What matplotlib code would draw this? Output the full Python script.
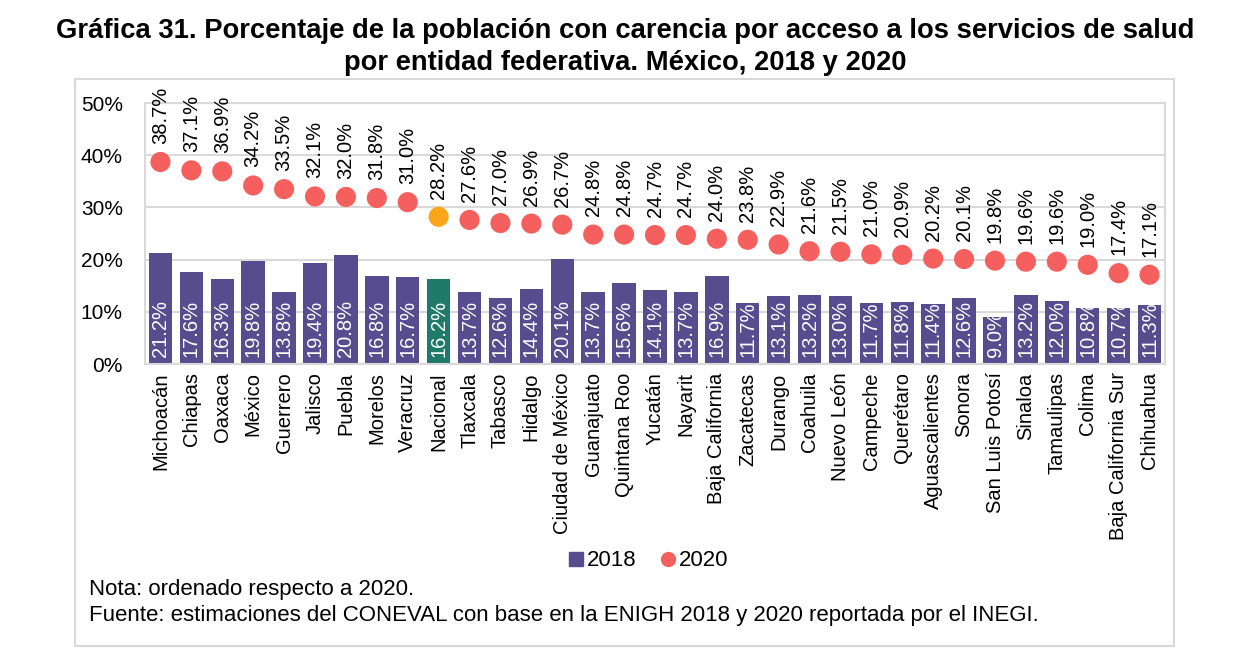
import matplotlib
matplotlib.use("Agg")
import matplotlib.pyplot as plt
from matplotlib.patches import Rectangle
from matplotlib.lines import Line2D
import numpy as np

plt.rcParams['font.family'] = ['Liberation Sans', 'DejaVu Sans']

states = ["Michoacán", "Chiapas", "Oaxaca", "México", "Guerrero", "Jalisco", "Puebla",
          "Morelos", "Veracruz", "Nacional", "Tlaxcala", "Tabasco", "Hidalgo",
          "Ciudad de México", "Guanajuato", "Quintana Roo", "Yucatán", "Nayarit",
          "Baja California", "Zacatecas", "Durango", "Coahuila", "Nuevo León",
          "Campeche", "Querétaro", "Aguascalientes", "Sonora", "San Luis Potosí",
          "Sinaloa", "Tamaulipas", "Colima", "Baja California Sur", "Chihuahua"]
v2018 = [21.2, 17.6, 16.3, 19.8, 13.8, 19.4, 20.8, 16.8, 16.7, 16.2, 13.7, 12.6, 14.4,
         20.1, 13.7, 15.6, 14.1, 13.7, 16.9, 11.7, 13.1, 13.2, 13.0, 11.7, 11.8, 11.4,
         12.6, 9.0, 13.2, 12.0, 10.8, 10.7, 11.3]
v2020 = [38.7, 37.1, 36.9, 34.2, 33.5, 32.1, 32.0, 31.8, 31.0, 28.2, 27.6, 27.0, 26.9,
         26.7, 24.8, 24.8, 24.7, 24.7, 24.0, 23.8, 22.9, 21.6, 21.5, 21.0, 20.9, 20.2,
         20.1, 19.8, 19.6, 19.6, 19.0, 17.4, 17.1]
yticks = [0, 10, 20, 30, 40, 50]

bar_color = "#564C8E"
nat_bar = "#1F7A6A"
dot_color = "#F5605E"
nat_dot = "#F9A61A"
grid_c = "#D9D9D9"

fig = plt.figure(figsize=(12.39, 6.63), dpi=100)
ax = fig.add_axes([145/1239, 1-364/663, (1165-145)/1239, (364-103)/663])

x = np.arange(len(states))
bcol = [nat_bar if s == "Nacional" else bar_color for s in states]
dcol = [nat_dot if s == "Nacional" else dot_color for s in states]
ax.bar(x, v2018, width=0.76, color=bcol, zorder=2)
ax.scatter(x, v2020, s=210, color=dcol, zorder=3, linewidths=0)

for xi, b, d in zip(x, v2018, v2020):
    ax.annotate(f"{b:.1f}%", (xi, 0), xytext=(0, 5), textcoords="offset points",
                rotation=90, ha="center", va="bottom", color="white", fontsize=14.5,
                zorder=4, clip_on=False)
    ax.annotate(f"{d:.1f}%", (xi, d), xytext=(0, 13), textcoords="offset points",
                rotation=90, ha="center", va="bottom", color="black", fontsize=14.5,
                zorder=4, annotation_clip=False)

ax.set_xlim(-0.5, len(states) - 0.5)
ax.set_ylim(0, 50)
ax.set_yticks(yticks)
ax.set_yticklabels([f"{t}%" for t in yticks], fontsize=15)
ax.set_xticks(x)
ax.set_xticklabels(states, rotation=90, fontsize=14.5, va="top", ha="center")
ax.tick_params(axis="both", length=0)
ax.tick_params(axis="y", pad=16)
ax.tick_params(axis="x", pad=6)
ax.yaxis.grid(True, color=grid_c, linewidth=1.5, zorder=0)
ax.set_axisbelow(True)
for sp in ax.spines.values():
    sp.set_color(grid_c)
    sp.set_linewidth(1.5)

handles = [Line2D([], [], marker="s", linestyle="none", color=bar_color, markersize=10),
           Line2D([], [], marker="o", linestyle="none", color=dot_color, markersize=10)]
fig.legend(handles, ["2018", "2020"], loc="center", bbox_to_anchor=(648/1239, 1-561/663),
           ncol=2, frameon=False, fontsize=16, handletextpad=0.1, columnspacing=1.0,
           handlelength=0.8)

fig.text(625/1239, 1-31/663, "Gráfica 31. Porcentaje de la población con carencia por acceso a los servicios de salud",
         ha="center", va="center", fontsize=19.7, fontweight="bold")
fig.text(625/1239, 1-63/663, "por entidad federativa. México, 2018 y 2020",
         ha="center", va="center", fontsize=19.7, fontweight="bold")
fig.text(89/1239, 1-590/663, "Nota: ordenado respecto a 2020.", ha="left", va="center", fontsize=16)
fig.text(89/1239, 1-616/663,
         "Fuente: estimaciones del CONEVAL con base en la ENIGH 2018 y 2020 reportada por el INEGI.",
         ha="left", va="center", fontsize=16)

fig.patches.append(Rectangle((75/1239, 1-646/663), (1174-75)/1239, (646-79)/663,
                             transform=fig.transFigure, fill=False, edgecolor="#D9D9D9",
                             linewidth=1.5, zorder=0))

fig.savefig("out.png", dpi=100)
